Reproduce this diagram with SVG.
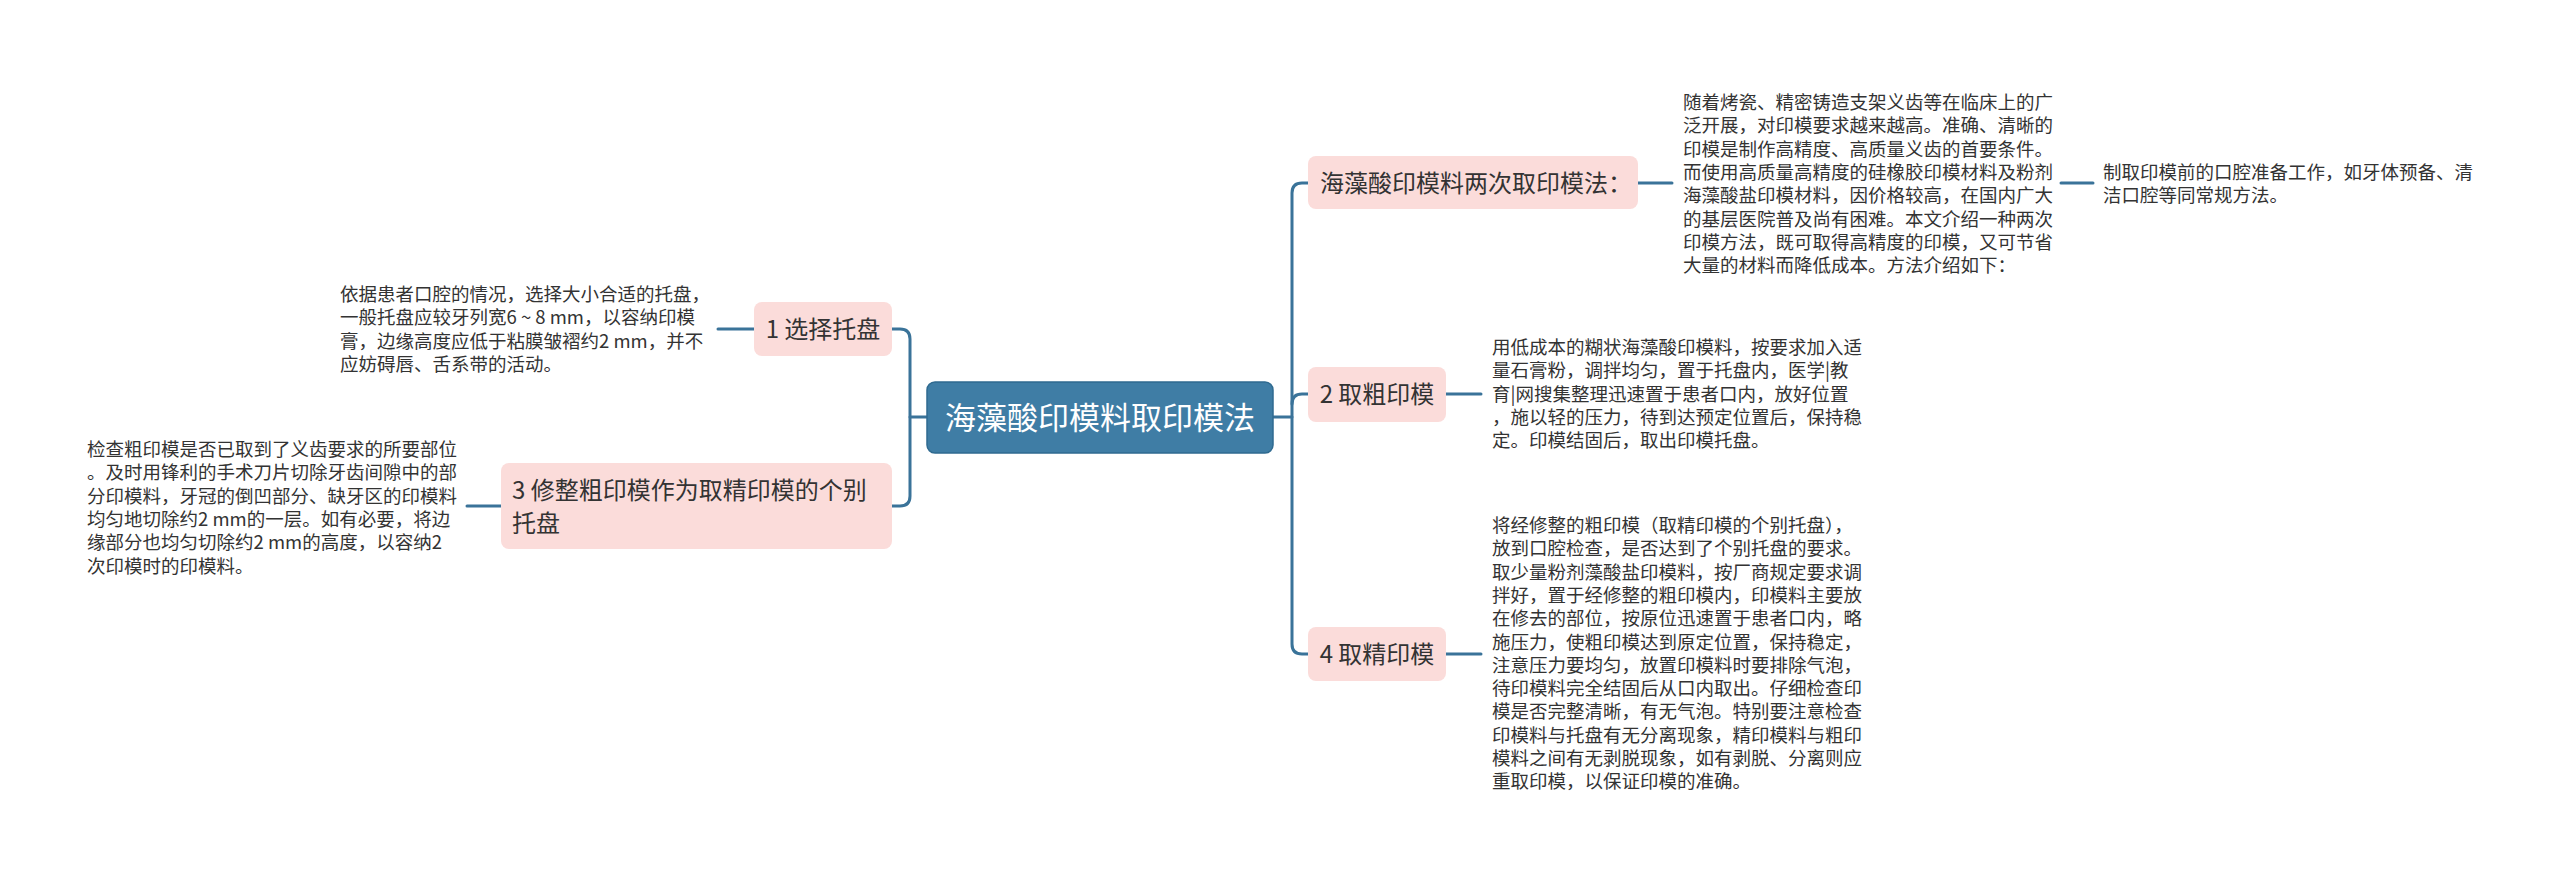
<svg xmlns="http://www.w3.org/2000/svg" width="2560" height="884" viewBox="0 0 2560 884">
<style>
.bg{fill:#ffffff}
.conn{fill:none;stroke:#3a7399;stroke-width:3;stroke-linecap:round}
.center{fill:#3f7da5;stroke:#2f6a90;stroke-width:1.5}
.branch{fill:#fbdcda}
.ct{font-family:"Noto Sans CJK SC","Noto Sans",sans-serif;font-size:31px;fill:#ffffff}
.bt{font-family:"Noto Sans CJK SC","Noto Sans",sans-serif;font-size:24px;fill:#333333}
.dt{font-family:"Noto Sans CJK SC","Noto Sans",sans-serif;font-size:18.5px;fill:#333333}
</style>
<rect class="bg" x="0" y="0" width="2560" height="884"/>
<g id="connectors">
  <path class="conn" d="M927 417 H910"/>
  <path class="conn" d="M892 329 H900 Q910 329 910 339 V496 Q910 506 900 506 H892"/>
  <path class="conn" d="M1273 417 H1292"/>
  <path class="conn" d="M1308 183 H1302 Q1292 183 1292 193 V644 Q1292 654 1302 654 H1308"/>
  <path class="conn" d="M1292 404 Q1292 394 1302 394 H1308"/>
  <path class="conn" d="M754 329 H718"/>
  <path class="conn" d="M501 506 H467"/>
  <path class="conn" d="M1638 183 H1672"/>
  <path class="conn" d="M2061 183 H2093"/>
  <path class="conn" d="M1446 394 H1481"/>
  <path class="conn" d="M1446 654 H1481"/>
</g>
<g id="central">
  <rect class="center" x="927" y="382" width="346" height="71" rx="8"/>
  <text class="ct" x="1100" y="429" text-anchor="middle">海藻酸印模料取印模法</text>
</g>
<g id="b1">
  <rect class="branch" x="754" y="302" width="138" height="54" rx="8"/>
  <text class="bt" x="823" y="338" text-anchor="middle">1 选择托盘</text>
</g>
<g id="b1-detail">
  <text class="dt" x="340" y="301">
    <tspan x="340" dy="0">依据患者口腔的情况，选择大小合适的托盘，</tspan>
    <tspan x="340" dy="23.3">一般托盘应较牙列宽6 ~ 8 mm，以容纳印模</tspan>
    <tspan x="340" dy="23.3">膏，边缘高度应低于粘膜皱褶约2 mm，并不</tspan>
    <tspan x="340" dy="23.3">应妨碍唇、舌系带的活动。</tspan>
  </text>
</g>
<g id="b3">
  <rect class="branch" x="501" y="463" width="391" height="86" rx="8"/>
  <text class="bt" x="512" y="499">
    <tspan x="512" dy="0">3 修整粗印模作为取精印模的个别</tspan>
    <tspan x="512" dy="33">托盘</tspan>
  </text>
</g>
<g id="b3-detail">
  <text class="dt" x="87" y="456">
    <tspan x="87" dy="0">检查粗印模是否已取到了义齿要求的所要部位</tspan>
    <tspan x="87" dy="23.3">。及时用锋利的手术刀片切除牙齿间隙中的部</tspan>
    <tspan x="87" dy="23.3">分印模料，牙冠的倒凹部分、缺牙区的印模料</tspan>
    <tspan x="87" dy="23.3">均匀地切除约2 mm的一层。如有必要，将边</tspan>
    <tspan x="87" dy="23.3">缘部分也均匀切除约2 mm的高度，以容纳2</tspan>
    <tspan x="87" dy="23.3">次印模时的印模料。</tspan>
  </text>
</g>
<g id="b0">
  <rect class="branch" x="1308" y="156" width="330" height="53" rx="8"/>
  <text class="bt" x="1320" y="192">海藻酸印模料两次取印模法：</text>
</g>
<g id="b0-detail">
  <text class="dt" x="1683" y="109">
    <tspan x="1683" dy="0">随着烤瓷、精密铸造支架义齿等在临床上的广</tspan>
    <tspan x="1683" dy="23.3">泛开展，对印模要求越来越高。准确、清晰的</tspan>
    <tspan x="1683" dy="23.3">印模是制作高精度、高质量义齿的首要条件。</tspan>
    <tspan x="1683" dy="23.3">而使用高质量高精度的硅橡胶印模材料及粉剂</tspan>
    <tspan x="1683" dy="23.3">海藻酸盐印模材料，因价格较高，在国内广大</tspan>
    <tspan x="1683" dy="23.3">的基层医院普及尚有困难。本文介绍一种两次</tspan>
    <tspan x="1683" dy="23.3">印模方法，既可取得高精度的印模，又可节省</tspan>
    <tspan x="1683" dy="23.3">大量的材料而降低成本。方法介绍如下：</tspan>
  </text>
</g>
<g id="b0-detail2">
  <text class="dt" x="2103" y="179">
    <tspan x="2103" dy="0">制取印模前的口腔准备工作，如牙体预备、清</tspan>
    <tspan x="2103" dy="23.3">洁口腔等同常规方法。</tspan>
  </text>
</g>
<g id="b2">
  <rect class="branch" x="1308" y="367" width="138" height="55" rx="8"/>
  <text class="bt" x="1377" y="403" text-anchor="middle">2 取粗印模</text>
</g>
<g id="b2-detail">
  <text class="dt" x="1492" y="354">
    <tspan x="1492" dy="0">用低成本的糊状海藻酸印模料，按要求加入适</tspan>
    <tspan x="1492" dy="23.3">量石膏粉，调拌均匀，置于托盘内，医学|教</tspan>
    <tspan x="1492" dy="23.3">育|网搜集整理迅速置于患者口内，放好位置</tspan>
    <tspan x="1492" dy="23.3">，施以轻的压力，待到达预定位置后，保持稳</tspan>
    <tspan x="1492" dy="23.3">定。印模结固后，取出印模托盘。</tspan>
  </text>
</g>
<g id="b4">
  <rect class="branch" x="1308" y="627" width="138" height="54" rx="8"/>
  <text class="bt" x="1377" y="663" text-anchor="middle">4 取精印模</text>
</g>
<g id="b4-detail">
  <text class="dt" x="1492" y="532">
    <tspan x="1492" dy="0">将经修整的粗印模（取精印模的个别托盘），</tspan>
    <tspan x="1492" dy="23.3">放到口腔检查，是否达到了个别托盘的要求。</tspan>
    <tspan x="1492" dy="23.3">取少量粉剂藻酸盐印模料，按厂商规定要求调</tspan>
    <tspan x="1492" dy="23.3">拌好，置于经修整的粗印模内，印模料主要放</tspan>
    <tspan x="1492" dy="23.3">在修去的部位，按原位迅速置于患者口内，略</tspan>
    <tspan x="1492" dy="23.3">施压力，使粗印模达到原定位置，保持稳定，</tspan>
    <tspan x="1492" dy="23.3">注意压力要均匀，放置印模料时要排除气泡，</tspan>
    <tspan x="1492" dy="23.3">待印模料完全结固后从口内取出。仔细检查印</tspan>
    <tspan x="1492" dy="23.3">模是否完整清晰，有无气泡。特别要注意检查</tspan>
    <tspan x="1492" dy="23.3">印模料与托盘有无分离现象，精印模料与粗印</tspan>
    <tspan x="1492" dy="23.3">模料之间有无剥脱现象，如有剥脱、分离则应</tspan>
    <tspan x="1492" dy="23.3">重取印模，以保证印模的准确。</tspan>
  </text>
</g>
</svg>
